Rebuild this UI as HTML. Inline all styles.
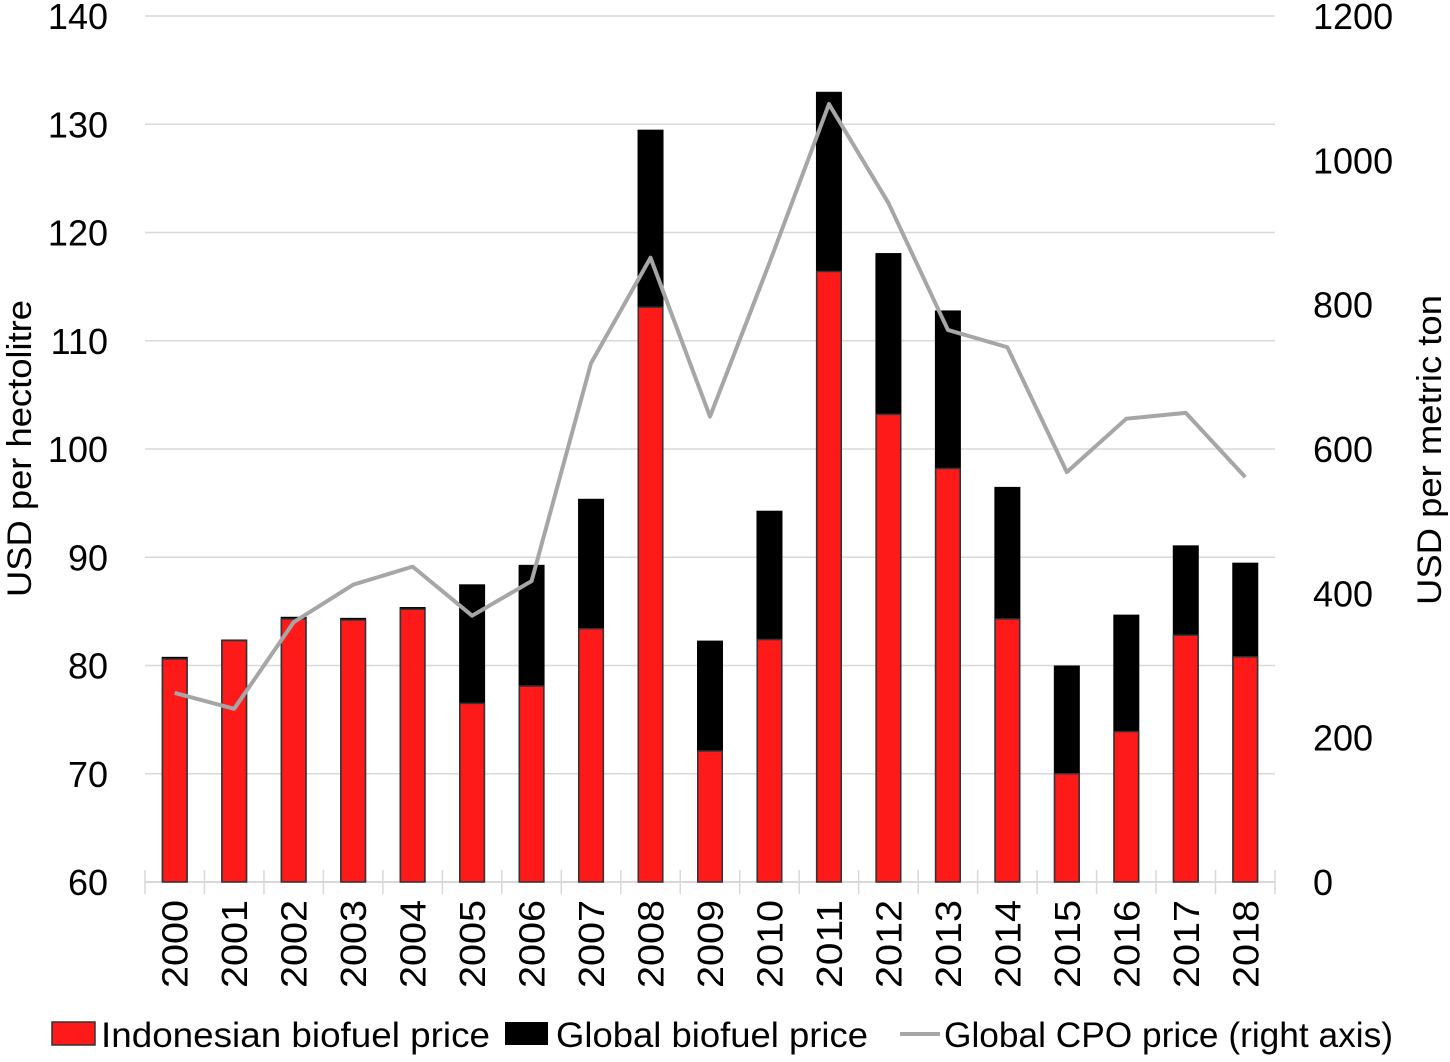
<!DOCTYPE html>
<html><head><meta charset="utf-8"><style>
body{margin:0;background:#fff;}
svg text{font-family:"Liberation Sans",sans-serif;fill:#000;}
</style></head><body>
<svg id="c" width="1450" height="1057"></svg>
<script>
const years=["2000","2001","2002","2003","2004","2005","2006","2007","2008","2009","2010","2011","2012","2013","2014","2015","2016","2017","2018"];
const indo=[80.6,82.3,84.3,84.2,85.2,76.5,78.1,83.4,113.1,72.1,82.4,116.4,103.2,98.2,84.3,70.0,73.9,82.8,80.8];
const glob=[80.8,82.4,84.5,84.4,85.4,87.5,89.3,95.4,129.5,82.3,94.3,133.0,118.1,112.8,96.5,80.0,84.7,91.1,89.5];
const cpo=[262,240,360,412,437,369,417,719,865,645,858,1078,941,765,741,568,642,650,561];
const leftTicks=[60,70,80,90,100,110,120,130,140];
const rightTicks=[0,200,400,600,800,1000,1200];
const NS="http://www.w3.org/2000/svg";
const svg=document.getElementById('c');
const x0=145,x1=1275,yB=882,yT=16;
const step=(x1-x0)/years.length;
const xc=i=>x0+step*(i+0.5);
const yL=v=>yB-(v-60)/80*(yB-yT);
const yR=v=>yB-v/1200*(yB-yT);
function mk(t,a,p){const e=document.createElementNS(NS,t);for(const k in a)e.setAttribute(k,a[k]);(p||svg).appendChild(e);return e;}
leftTicks.forEach((v,i)=>{
 if(v>60){const g=mk('line',{x1:x0,x2:x1,y1:yL(v),y2:yL(v),stroke:'#d9d9d9','stroke-width':1.5});
 
 }
 const t=mk('text',{x:108,y:yL(v)+13,'text-anchor':'end','font-size':36});t.textContent=v;
 
 
});
rightTicks.forEach(v=>{
 const t=mk('text',{x:1313,y:yR(v)+13,'font-size':36});t.textContent=v;
 
 
});
const ax=mk('line',{x1:x0,x2:x1,y1:yB,y2:yB,stroke:'#d9d9d9','stroke-width':2});


for(let i=0;i<=years.length;i++){const tk=mk('line',{x1:x0+step*i,x2:x0+step*i,y1:870,y2:894,stroke:'#d9d9d9','stroke-width':1.5});
 
 }
const bw=26;
years.forEach((y,i)=>{
 const g=mk('rect',{x:xc(i)-bw/2,y:yL(glob[i]),width:bw,height:yB-yL(glob[i]),fill:'#000'});
 
 
 const r=mk('rect',{x:xc(i)-bw/2+0.75,y:yL(indo[i]),width:bw-1.5,height:yB-yL(indo[i]),fill:'#ff1a1a',stroke:'#333','stroke-width':1.5});
 
 
 const t=mk('text',{transform:`translate(${xc(i)+13},988) rotate(-90)`,'font-size':36,textLength:88,lengthAdjust:'spacingAndGlyphs'});t.textContent=y;
 
 
});
const pl=mk('polyline',{points:cpo.map((v,i)=>xc(i)+','+yR(v)).join(' '),fill:'none',stroke:'#a6a6a6','stroke-width':4,'stroke-linejoin':'round'});


const lt=mk('text',{transform:'translate(31,597) rotate(-90)','font-size':34,textLength:297,lengthAdjust:'spacingAndGlyphs'});lt.textContent='USD per hectolitre';


const rt=mk('text',{transform:'translate(1441,605) rotate(-90)','font-size':34,textLength:310,lengthAdjust:'spacingAndGlyphs'});rt.textContent='USD per metric ton';


const l1=mk('rect',{x:52,y:1022,width:43,height:23,fill:'#ff1a1a',stroke:'#333','stroke-width':1.5});


const t1=mk('text',{x:101,y:1047,'font-size':35,textLength:389,lengthAdjust:'spacingAndGlyphs'});t1.textContent='Indonesian biofuel price';


const l2=mk('rect',{x:505,y:1022,width:43,height:23,fill:'#000'});


const t2=mk('text',{x:556,y:1047,'font-size':35,textLength:312,lengthAdjust:'spacingAndGlyphs'});t2.textContent='Global biofuel price';


const l3=mk('line',{x1:900,x2:940,y1:1034,y2:1034,stroke:'#a6a6a6','stroke-width':4});


const t3=mk('text',{x:944,y:1047,'font-size':35,textLength:449,lengthAdjust:'spacingAndGlyphs'});t3.textContent='Global CPO price (right axis)';


</script>
</body></html>
